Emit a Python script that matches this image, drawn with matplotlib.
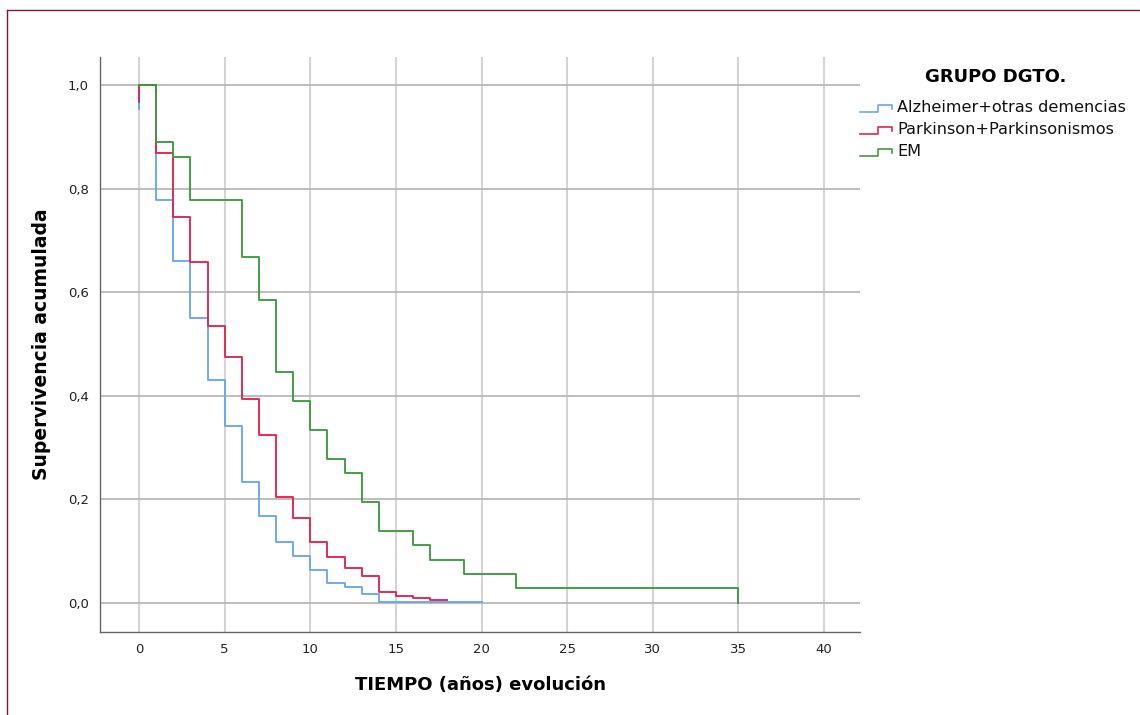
import matplotlib
matplotlib.use("Agg")
import matplotlib.pyplot as plt
from matplotlib.lines import Line2D
from matplotlib.ticker import FuncFormatter

# ---- data (Kaplan-Meier step curves) ----
group_names = ["Alzheimer+otras demencias", "Parkinson+Parkinsonismos", "EM"]

alz_time = [0, 0, 1, 2, 3, 4, 5, 6, 7, 8, 9, 10, 11, 12, 13, 14, 20]
alz_surv = [0.953, 1.0, 0.778, 0.661, 0.550, 0.431, 0.341, 0.234, 0.168,
            0.118, 0.091, 0.064, 0.039, 0.030, 0.018, 0.002, 0.002]

park_time = [0, 0, 1, 2, 3, 4, 5, 6, 7, 8, 9, 10, 11, 12, 13, 14, 15, 16, 17, 18]
park_surv = [0.968, 1.0, 0.868, 0.746, 0.658, 0.534, 0.475, 0.393, 0.325,
             0.205, 0.165, 0.118, 0.089, 0.068, 0.053, 0.022, 0.013, 0.009,
             0.005, 0.005]

em_time = [0, 1, 2, 3, 6, 7, 8, 9, 10, 11, 12, 13, 14, 16, 17, 19, 22, 35]
em_surv = [1.0, 0.889, 0.860, 0.778, 0.667, 0.584, 0.446, 0.390, 0.333,
           0.278, 0.250, 0.194, 0.139, 0.111, 0.083, 0.056, 0.028, 0.0]

x_ticks = [0, 5, 10, 15, 20, 25, 30, 35, 40]
y_ticks = [0.0, 0.2, 0.4, 0.6, 0.8, 1.0]

colors = ["#6aa6ee", "#e0264e", "#3f9a3f"]

W, H = 1140, 715
fig = plt.figure(figsize=(W / 100, H / 100), dpi=100)
fig.patch.set_facecolor("white")

def fx(px):
    return px / W

def fy(py):
    return 1 - py / H

ax = fig.add_axes([fx(100), fy(632), fx(860) - fx(100), fy(57) - fy(632)])
ax.set_xlim(-2.28, 42.1)
ax.set_ylim(-0.056, 1.054)

# grid lines
for t in x_ticks:
    ax.axvline(t, color="#d4d4d4", lw=1.5, zorder=0)
for v in y_ticks:
    ax.axhline(v, color="#b8b8b8", lw=1.3, zorder=0)

series = [(alz_time, alz_surv), (park_time, park_surv), (em_time, em_surv)]
for (t, s), c, name in zip(series, colors, group_names):
    ax.step(t, s, where="post", color=c, lw=1.35, label=name, zorder=3)

ax.set_xticks(x_ticks)
ax.set_yticks(y_ticks)
ax.yaxis.set_major_formatter(FuncFormatter(lambda v, p: f"{v:.1f}".replace(".", ",")))
ax.tick_params(axis="both", length=0, labelsize=9.5, colors="#222222")
ax.tick_params(axis="x", pad=8)
ax.tick_params(axis="y", pad=8)

for sp in ["top", "right"]:
    ax.spines[sp].set_visible(False)
for sp in ["left", "bottom"]:
    ax.spines[sp].set_color("#666666")
    ax.spines[sp].set_linewidth(1.0)

ax.set_xlabel("TIEMPO (años) evolución", fontsize=13, fontweight="bold", labelpad=14)
ax.set_ylabel("Supervivencia acumulada", fontsize=13.5, fontweight="bold", labelpad=12)

# legend (drawn manually to mimic the step glyphs)
fig.text(fx(996), fy(77), "GRUPO DGTO.", fontsize=13, fontweight="bold",
         ha="center", va="center")
for i, (name, c) in enumerate(zip(group_names, colors)):
    yc = 108 + 22 * i
    xs = [fx(860), fx(878), fx(878), fx(892), fx(892)]
    ys = [fy(yc + 4), fy(yc + 4), fy(yc - 3), fy(yc - 3), fy(yc + 1)]
    fig.add_artist(Line2D(xs, ys, color=c, lw=1.2, transform=fig.transFigure))
    fig.text(fx(897), fy(yc), name, fontsize=11.6, ha="left", va="center", color="#111111")

# outer frame lines
fig.add_artist(Line2D([fx(7), fx(1140)], [fy(10), fy(10)], color="#7a1a3a", lw=1.0,
                      transform=fig.transFigure))
fig.add_artist(Line2D([fx(7), fx(7)], [fy(10), fy(715)], color="#7a1a3a", lw=1.0,
                      transform=fig.transFigure))

fig.savefig("out.png", dpi=100)
